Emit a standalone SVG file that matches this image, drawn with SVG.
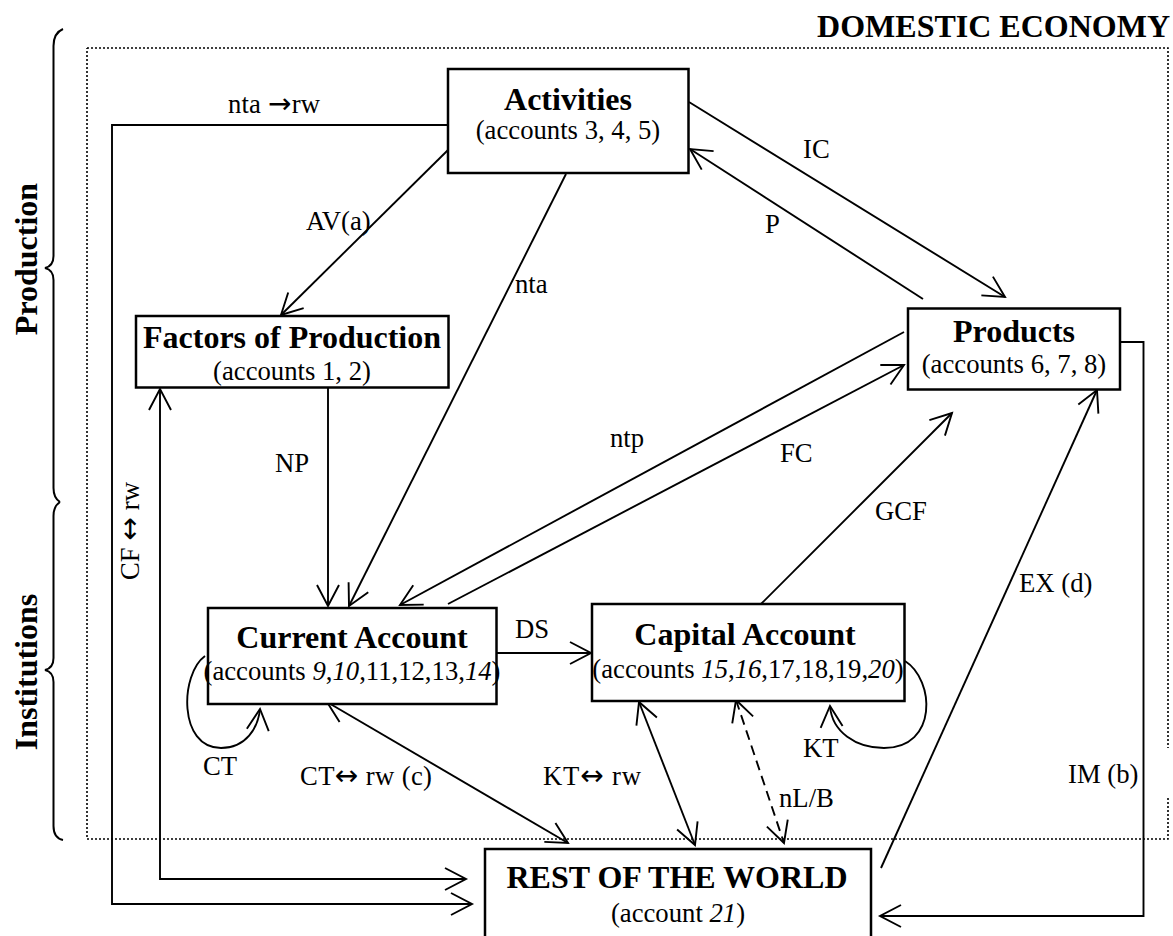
<svg xmlns="http://www.w3.org/2000/svg" width="1173" height="936" viewBox="0 0 1173 936">
<defs>
<style>
text{font-family:"Liberation Serif","Times New Roman",serif;fill:#000}
.t{font-size:32px;font-weight:bold}
.s{font-size:26.7px}
.l{font-size:26.7px}
.ar{font-family:"DejaVu Sans",sans-serif;font-size:28px}
.box{fill:#fff;stroke:#000;stroke-width:2.5}
.c{fill:none;stroke:#000;stroke-width:1.9}
.d{stroke-dasharray:10,6}
.frame{fill:none;stroke:#000;stroke-width:1.6;stroke-dasharray:2,2}
.brace{fill:none;stroke:#000;stroke-width:2}
</style>
<marker id="a" markerUnits="userSpaceOnUse" markerWidth="26" markerHeight="26" refX="22" refY="12" orient="auto-start-reverse" viewBox="0 0 26 24">
<path d="M1,1 L22,12 L1,23" fill="none" stroke="#000" stroke-width="1.9"/>
</marker>
</defs>
<rect width="1173" height="936" fill="#fff"/>

<g id="domestic-frame">
<path class="frame" d="M87,48 H1168 V748 M1168,798 V839 H87 V48"/>
<text class="t" x="1170" y="37" text-anchor="end">DOMESTIC ECONOMY</text>
</g>

<g id="braces">
<path class="brace" d="M63,29 Q53.5,33 53.5,46 L53.5,256 Q53.5,266 45,268 Q53.5,270 53.5,280 L53.5,488 Q53.5,498 60,502"/>
<path class="brace" d="M60,502 Q53.5,506 53.5,516 L53.5,658 Q53.5,668 45,670 Q53.5,672 53.5,682 L53.5,826 Q53.5,838 63,840"/>
<text class="t" transform="translate(37,259) rotate(-90)" text-anchor="middle">Production</text>
<text class="t" transform="translate(37,672) rotate(-90)" text-anchor="middle">Institutions</text>
</g>

<g id="connectors">
<polyline class="c" points="448,125 112,125 112,904 472,904" marker-end="url(#a)"/>
<polyline class="c" points="160,389 160,879 466,879" marker-start="url(#a)" marker-end="url(#a)"/>
<line class="c" x1="448" y1="150" x2="281" y2="315" marker-end="url(#a)"/>
<line class="c" x1="566" y1="174" x2="349" y2="606" marker-end="url(#a)"/>
<line class="c" x1="328" y1="388" x2="328" y2="606" marker-end="url(#a)"/>
<line class="c" x1="689" y1="102" x2="1005" y2="297" marker-end="url(#a)"/>
<line class="c" x1="923" y1="299" x2="690" y2="149" marker-end="url(#a)"/>
<line class="c" x1="904" y1="332" x2="400" y2="605" marker-end="url(#a)"/>
<line class="c" x1="448" y1="604" x2="904" y2="365" marker-end="url(#a)"/>
<line class="c" x1="497" y1="653" x2="591" y2="653" marker-end="url(#a)"/>
<line class="c" x1="761" y1="604" x2="952" y2="413" marker-end="url(#a)"/>
<line class="c" x1="881" y1="868" x2="1097" y2="390" marker-end="url(#a)"/>
<polyline class="c" points="1120,342 1143.5,342 1143.5,916 880,916" marker-end="url(#a)"/>
<line class="c" x1="327" y1="702" x2="568" y2="843" marker-start="url(#a)" marker-end="url(#a)"/>
<line class="c" x1="639" y1="702" x2="695" y2="845" marker-start="url(#a)" marker-end="url(#a)"/>
<line class="c d" x1="736" y1="700" x2="784" y2="843" marker-start="url(#a)" marker-end="url(#a)"/>
<path class="c" d="M205,656 C180,674 178,748 221,748 C246,748 258,728 260,709" marker-end="url(#a)"/>
<path class="c" d="M905,661 C935,680 938,748 884,748 C856,748 832,732 830,706" marker-end="url(#a)"/>
</g>

<g id="labels">
<text class="l" x="228" y="113" textLength="92" lengthAdjust="spacing">nta <tspan class="ar">→</tspan>rw</text>
<text class="l" x="306" y="230">AV(a)</text>
<text class="l" x="803" y="158">IC</text>
<text class="l" x="765" y="233">P</text>
<text class="l" x="515" y="293">nta</text>
<text class="l" x="275" y="472">NP</text>
<text class="l" x="610" y="447">ntp</text>
<text class="l" x="780" y="462">FC</text>
<text class="l" x="875" y="520">GCF</text>
<text class="l" x="1019" y="592">EX (d)</text>
<text class="l" x="515" y="638">DS</text>
<text class="l" x="203" y="775">CT</text>
<text class="l" x="300" y="785" textLength="132" lengthAdjust="spacing">CT<tspan class="ar">↔</tspan> rw (c)</text>
<text class="l" x="543" y="785" textLength="98" lengthAdjust="spacing">KT<tspan class="ar">↔</tspan> rw</text>
<text class="l" x="779" y="807">nL/B</text>
<text class="l" x="803" y="757">KT</text>
<text class="l" x="1068" y="783">IM (b)</text>
<text class="l" transform="translate(139,580) rotate(-90)" textLength="98" lengthAdjust="spacing">CF <tspan class="ar">↔</tspan> rw</text>
</g>

<g id="activities">
<rect class="box" x="448" y="69" width="240.5" height="104"/>
<text class="t" x="568" y="110" text-anchor="middle">Activities</text>
<text class="s" x="568" y="139" text-anchor="middle">(accounts 3, 4, 5)</text>
</g>

<g id="factors">
<rect class="box" x="136" y="316" width="312.5" height="71.5"/>
<text class="t" x="292" y="348" text-anchor="middle">Factors of Production</text>
<text class="s" x="292" y="380" text-anchor="middle">(accounts 1, 2)</text>
</g>

<g id="products">
<rect class="box" x="908" y="308.5" width="212" height="81"/>
<text class="t" x="1014" y="342" text-anchor="middle">Products</text>
<text class="s" x="1014" y="373" text-anchor="middle">(accounts 6, 7, 8)</text>
</g>

<g id="current-account">
<rect class="box" x="208" y="608" width="288.5" height="96"/>
<text class="t" x="352" y="648" text-anchor="middle">Current Account</text>
<text class="s" x="352" y="680" text-anchor="middle">(accounts <tspan font-style="italic">9</tspan>,<tspan font-style="italic">10</tspan>,11,12,13,<tspan font-style="italic">14</tspan>)</text>
</g>

<g id="capital-account">
<rect class="box" x="592" y="604" width="312.5" height="97"/>
<text class="t" x="745" y="645" text-anchor="middle">Capital Account</text>
<text class="s" x="748" y="678" text-anchor="middle">(accounts <tspan font-style="italic">15</tspan>,<tspan font-style="italic">16</tspan>,17,18,19,<tspan font-style="italic">20</tspan>)</text>
</g>

<g id="rest-of-world">
<rect class="box" x="485" y="849" width="386" height="100"/>
<text class="t" x="677" y="888" text-anchor="middle">REST OF THE WORLD</text>
<text class="s" x="678" y="922" text-anchor="middle">(account <tspan font-style="italic">21</tspan>)</text>
</g>
</svg>
